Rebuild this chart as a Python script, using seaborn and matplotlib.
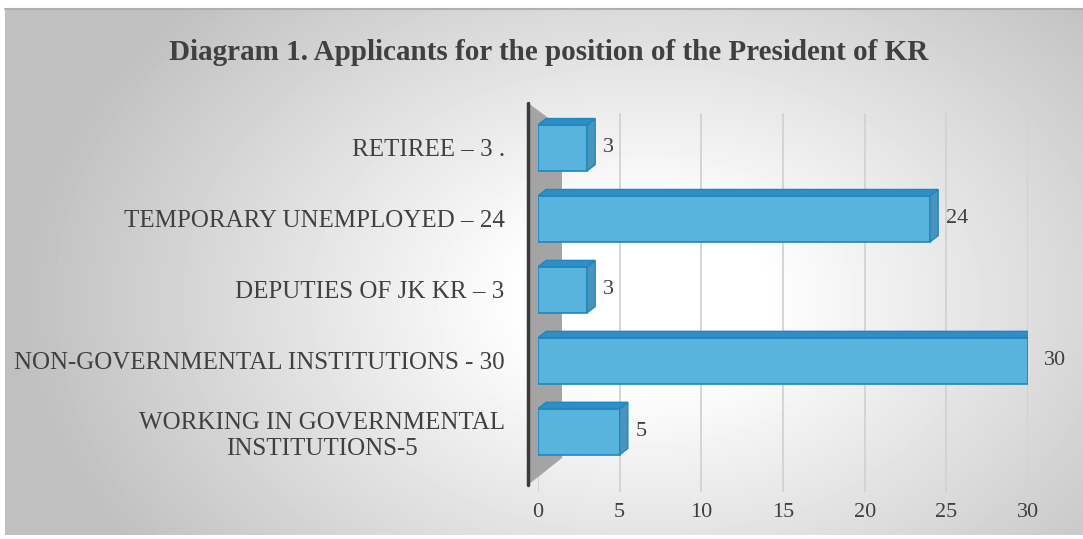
import numpy as np
import pandas as pd
import matplotlib
matplotlib.use("Agg")
import matplotlib.pyplot as plt
from matplotlib.patches import Polygon
import seaborn as sns

# DATA
categories = [
    "RETIREE – 3 .",
    "TEMPORARY UNEMPLOYED – 24",
    "DEPUTIES OF JK KR – 3",
    "NON-GOVERNMENTAL INSTITUTIONS - 30",
    "WORKING IN GOVERNMENTAL\nINSTITUTIONS-5",
]
values = [3, 24, 3, 30, 5]
x_ticks = [0, 5, 10, 15, 20, 25, 30]
title = "Diagram 1. Applicants for the position of the President of KR"

df = pd.DataFrame({"category": categories, "value": values})

sns.set_theme(style="white")
plt.rcParams["font.family"] = ["Liberation Serif", "DejaVu Serif"]

W, H = 1083, 539
fig = plt.figure(figsize=(W / 100, H / 100), dpi=100)
fig.patch.set_facecolor("white")

# radial grey background of the chart area
bg = fig.add_axes([5 / W, 1 - 535 / H, 1 - 5 / W, (535 - 9) / H], zorder=-5)
yy, xx = np.mgrid[0:526, 0:1078]
d = np.sqrt(((xx - 640) / 600.0) ** 2 + ((yy - 290) / 420.0) ** 2)
shade = 1 - 0.25 * np.clip((d - 0.2) / 0.85, 0, 1)
bg.imshow(shade, cmap="gray", vmin=0, vmax=1, aspect="auto", interpolation="bilinear")
bg.axis("off")
fig.add_artist(plt.Line2D([5 / W, 1], [1 - 9 / H] * 2, color="#b0b0b0", lw=1.5))

# main plot axes
left, right = 538, 1028
top, bottom = 112.5, 492
ax = fig.add_axes([left / W, 1 - bottom / H, (right - left) / W, (bottom - top) / H])
ax.set_facecolor("none")

front = "#58b4dd"
edge = "#1f86bf"
sns.barplot(data=df, x="value", y="category", orient="h", color=front,
            width=0.65, edgecolor=edge, linewidth=1.2, saturation=1, ax=ax, zorder=3)

ax.set_xlim(0, 30)
ax.set_ylim(4.85, -0.5)
ax.set_xticks(x_ticks)
ax.xaxis.grid(True, color="#d2d2d2", lw=1.3, zorder=0)
ax.set_axisbelow(True)
for s in ax.spines.values():
    s.set_visible(False)
ax.set_xlabel("")
ax.set_ylabel("")
ax.tick_params(axis="both", length=0, colors="#404040")
ax.tick_params(axis="x", labelsize=16, pad=8)
ax.tick_params(axis="y", labelsize=18, pad=24)
for lab in ax.get_yticklabels():
    lab.set_multialignment("center")

# depth faces of the bars (pseudo 3D)
h, dx, dy = 0.65, 0.5, 0.09
for i, v in enumerate(values):
    y0, y1 = i - h / 2, i + h / 2
    side = Polygon([(v, y0), (v + dx, y0 - dy), (v + dx, y1 - dy), (v, y1)],
                   closed=True, facecolor="#4a94bb", edgecolor=edge, lw=1, zorder=3)
    topf = Polygon([(0, y0), (dx, y0 - dy), (v + dx, y0 - dy), (v, y0)],
                   closed=True, facecolor="#2f8fc4", edgecolor=edge, lw=1, zorder=3)
    ax.add_patch(side)
    ax.add_patch(topf)
    ax.text(v + dx + 0.5, i, str(v), ha="left", va="center", fontsize=16, color="#404040")

# grey back wall on the left
wall = Polygon([(528 / W, 1 - 103 / H), (562 / W, 1 - 128 / H),
                (562 / W, 1 - 458 / H), (528 / W, 1 - 485 / H)],
               closed=True, transform=fig.transFigure, facecolor="#a4a4a4",
               edgecolor="none", zorder=1)
ax.add_patch(wall)
wall.set_clip_on(False)
fig.add_artist(plt.Line2D([528 / W, 528 / W], [1 - 103 / H, 1 - 485 / H],
                          color="#3a3a3a", lw=2.5, zorder=2))

fig.text(0.507, 1 - 52 / H, title, ha="center", va="center", fontsize=21,
         fontweight="bold", color="#404040")

fig.savefig("out.png", dpi=100)
